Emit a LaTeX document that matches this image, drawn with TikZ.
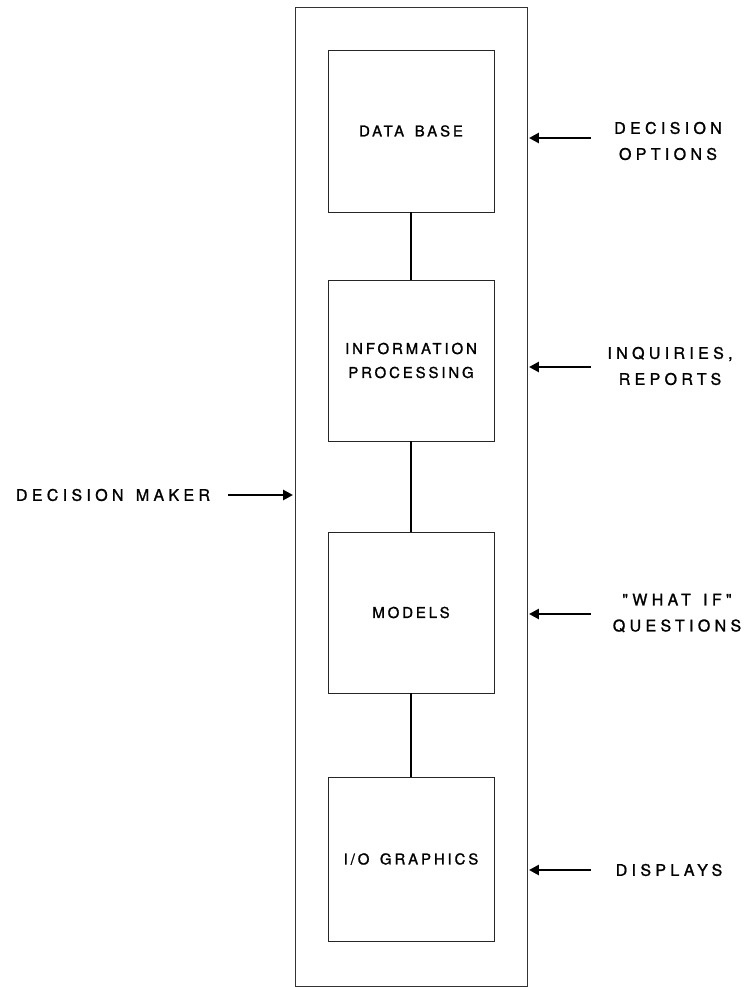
\documentclass[tikz,border=0pt]{standalone}
\usepackage{fontspec}
\usetikzlibrary{arrows.meta}
\newfontfamily\labfont[LetterSpace=19,WordSpace=1.5,FakeBold=1.2]{TeX Gyre Heros}
\newfontfamily\outfont[LetterSpace=27,WordSpace=1.4,FakeBold=1.2]{TeX Gyre Heros}
\begin{document}
\begin{tikzpicture}[x=1pt,y=-1pt,
  blockbox/.style={draw=black!85, line width=0.9pt, minimum width=166pt, minimum height=162pt, inner sep=0pt, font=\labfont\fontsize{15}{24}\selectfont, align=center},
  outerbox/.style={draw=black!80, line width=0.9pt, minimum width=232pt, minimum height=979pt, inner sep=0pt},
  lab/.style={font=\outfont\fontsize{16}{26}\selectfont, align=center, inner sep=0pt},
  conn/.style={line width=2.2pt, black},
  arr/.style={line width=2.5pt, -{Triangle[length=10pt,width=10pt]}, shorten >=1.5pt}]
\useasboundingbox (0,0) rectangle (747,987);
\node[outerbox] (outer) at (411,496.5) {};
\node[blockbox, minimum height=162pt] (b1) at (411,131) {DATA BASE};
\node[blockbox, minimum height=161pt] (b2) at (411,360.5) {INFORMATION\\PROCESSING};
\node[blockbox, minimum height=161pt] (b3) at (411,612.5) {MODELS};
\node[blockbox, minimum height=164pt] (b4) at (411,859) {I/O GRAPHICS};
\draw[conn] (b1) -- (b2);
\draw[conn] (b2) -- (b3);
\draw[conn] (b3) -- (b4);
\node[lab] (l1) at (668,141) {DECISION\\OPTIONS};
\node[lab] (l2) at (670,366) {INQUIRIES,\\REPORTS};
\node[lab] (l3) at (677,613) {"WHAT IF"\\QUESTIONS};
\node[lab] (l4) at (669,870) {DISPLAYS};
\node[lab] (l5) at (113,495) {DECISION MAKER};
\coordinate (t1) at (591,138);
\coordinate (t2) at (591,367);
\coordinate (t3) at (591,614);
\coordinate (t4) at (591,870);
\coordinate (t5) at (228,495);
\draw[arr] (t1) -- (t1 -| outer.east);
\draw[arr] (t2) -- (t2 -| outer.east);
\draw[arr] (t3) -- (t3 -| outer.east);
\draw[arr] (t4) -- (t4 -| outer.east);
\draw[arr] (t5) -- (t5 -| outer.west);
\end{tikzpicture}
\end{document}
